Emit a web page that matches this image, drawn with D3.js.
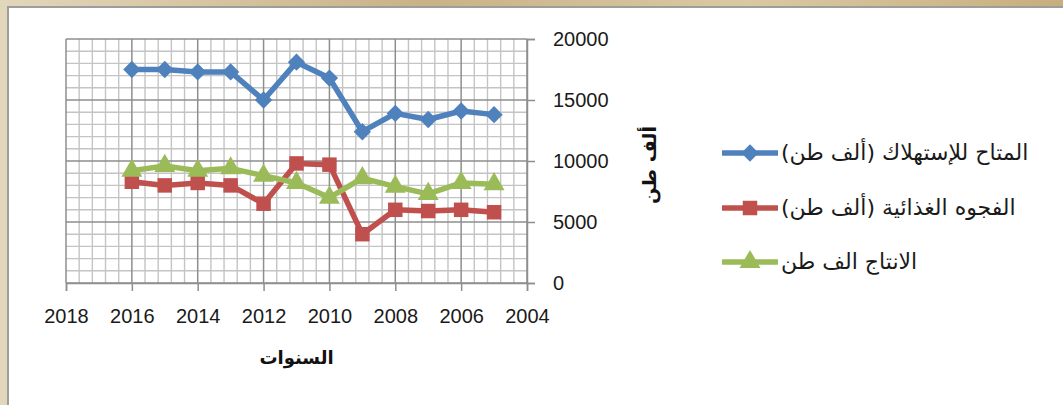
<!DOCTYPE html>
<html>
<head>
<meta charset="utf-8">
<script src="https://cdn.jsdelivr.net/npm/d3@7"></script>
<style>
  html, body { margin: 0; padding: 0; background: #d8c9a6; }
  svg { display: block; }
</style>
</head>
<body>
<svg id="chart" width="1063" height="405"></svg>
<script>
// Years shown on the chart (plotted right-to-left)
const years = [2016, 2015, 2014, 2013, 2012, 2011, 2010, 2009, 2008, 2007, 2006, 2005];

// Thousand tonnes
const available = [17500, 17500, 17300, 17300, 15000, 18100, 16800, 12400, 13900, 13400, 14100, 13800];
const foodGap   = [8300, 8000, 8200, 8000, 6500, 9800, 9700, 4000, 6000, 5900, 6000, 5800];
const production = [9200, 9600, 9200, 9400, 8800, 8200, 7000, 8600, 7900, 7300, 8200, 8100];

const seriesNames = [
  "المتاح للإستهلاك (ألف طن)",
  "الفجوه الغذائية (ألف طن)",
  "الانتاج الف طن"
];

const xTicks = [2018, 2016, 2014, 2012, 2010, 2008, 2006, 2004];
const yTicks = [0, 5000, 10000, 15000, 20000];
const xTitle = "السنوات";
const yTitle = "ألف طن";

const svg = d3.select("#chart");

// textured paper behind the chart frame
const defs = svg.append("defs");
const bg = defs.append("linearGradient").attr("id", "paper")
  .attr("x1", 0).attr("y1", 0).attr("x2", 1).attr("y2", 0);
bg.append("stop").attr("offset", "0%").attr("stop-color", "#e2d6bb");
bg.append("stop").attr("offset", "40%").attr("stop-color", "#c9b287");
bg.append("stop").attr("offset", "70%").attr("stop-color", "#d9c9a3");
bg.append("stop").attr("offset", "100%").attr("stop-color", "#c8ae7e");
svg.append("rect").attr("width", 1063).attr("height", 405).attr("fill", "url(#paper)");

// white chart frame
svg.append("rect")
  .attr("x", 8).attr("y", 7).attr("width", 1070).attr("height", 410)
  .attr("fill", "#ffffff").attr("stroke", "#9d9d9d").attr("stroke-width", 2);

const x = d3.scaleLinear().domain([2018, 2004]).range([66, 527]);
const y = d3.scaleLinear().domain([0, 20000]).range([283, 39]);

const plotTop = y(20000), plotBottom = y(0), plotLeft = x(2018), plotRight = x(2004);

// minor grid: every 0.4 year and every 1000 t
const minorX = d3.range(0, 36).filter(i => i % 5 !== 0).map(i => 2018 - i * 0.4);
const minorY = d3.range(0, 21).map(i => i * 1000).filter(v => v % 5000 !== 0);

const grid = svg.append("g");
grid.selectAll("line.mx").data(minorX).join("line")
  .attr("x1", d => x(d)).attr("x2", d => x(d))
  .attr("y1", plotTop).attr("y2", plotBottom)
  .attr("stroke", "#c4c4c4").attr("stroke-width", 1.4);
grid.selectAll("line.my").data(minorY).join("line")
  .attr("x1", plotLeft).attr("x2", plotRight)
  .attr("y1", d => y(d)).attr("y2", d => y(d))
  .attr("stroke", "#c4c4c4").attr("stroke-width", 1.4);

// major grid
grid.selectAll("line.Mx").data(xTicks).join("line")
  .attr("x1", d => x(d)).attr("x2", d => x(d))
  .attr("y1", plotTop).attr("y2", plotBottom)
  .attr("stroke", "#8e8e8e").attr("stroke-width", 1.5);
grid.selectAll("line.My").data(yTicks).join("line")
  .attr("x1", plotLeft).attr("x2", plotRight)
  .attr("y1", d => y(d)).attr("y2", d => y(d))
  .attr("stroke", "#8e8e8e").attr("stroke-width", 1.5);

// axes
const tickFont = "'Liberation Sans', Arial, sans-serif";
const xAxis = svg.append("g").attr("transform", `translate(0,${plotBottom})`)
  .call(d3.axisBottom(x).tickValues(xTicks).tickFormat(d3.format("d")).tickSize(8).tickPadding(18));
const yAxis = svg.append("g").attr("transform", `translate(${plotRight},0)`)
  .call(d3.axisRight(y).tickValues(yTicks).tickFormat(d3.format("d")).tickSize(8).tickPadding(18));
[xAxis, yAxis].forEach(g => {
  g.select(".domain").attr("stroke", "#8e8e8e").attr("stroke-width", 1.5);
  g.selectAll(".tick line").attr("stroke", "#8e8e8e").attr("stroke-width", 1.5);
  g.selectAll(".tick text").attr("fill", "#1a1a1a")
    .style("font-family", tickFont).style("font-size", "20px");
});

// axis titles
svg.append("text")
  .attr("x", (plotLeft + plotRight) / 2).attr("y", 364)
  .attr("text-anchor", "middle")
  .style("font-family", "'DejaVu Sans', sans-serif").style("font-weight", "bold").style("font-size", "18px")
  .attr("fill", "#111").text(xTitle);
svg.append("text")
  .attr("transform", "translate(656,165) rotate(-90)")
  .attr("text-anchor", "middle")
  .style("font-family", "'DejaVu Sans', sans-serif").style("font-weight", "bold").style("font-size", "19px")
  .attr("fill", "#111").text(yTitle);

// square-proportioned diamond marker
const diamond = {
  draw(ctx, size) {
    const r = Math.sqrt(size / 2);
    ctx.moveTo(0, -r); ctx.lineTo(r, 0); ctx.lineTo(0, r); ctx.lineTo(-r, 0); ctx.closePath();
  }
};

// series
const colors = ["#4f81bd", "#c0504d", "#9bbb59"];
const values = [available, foodGap, production];
const symbols = [diamond, d3.symbolSquare, d3.symbolTriangle];
const symSizes = [150, 210, 190];

const line = d3.line().x(d => x(d[0])).y(d => y(d[1]));

values.forEach((vals, i) => {
  const pts = years.map((yr, j) => [yr, vals[j]]);
  const g = svg.append("g");
  g.append("path").datum(pts).attr("d", line)
    .attr("fill", "none").attr("stroke", colors[i]).attr("stroke-width", 5.5)
    .attr("stroke-linejoin", "round");
  g.selectAll("path.m").data(pts).join("path")
    .attr("transform", d => `translate(${x(d[0])},${y(d[1])})`)
    .attr("d", d3.symbol().type(symbols[i]).size(symSizes[i]))
    .attr("fill", colors[i]);
});

// legend
const legendY = [153, 208, 262];
const leg = svg.append("g");
seriesNames.forEach((name, i) => {
  const g = leg.append("g").attr("transform", `translate(0,${legendY[i]})`);
  g.append("line").attr("x1", 722).attr("x2", 778).attr("y1", 0).attr("y2", 0)
    .attr("stroke", colors[i]).attr("stroke-width", 5.5);
  g.append("path").attr("transform", "translate(750,0)")
    .attr("d", d3.symbol().type(symbols[i]).size(symSizes[i]))
    .attr("fill", colors[i]);
  g.append("text")
    .attr("x", 781).attr("y", 7)
    .attr("direction", "rtl").attr("text-anchor", "end")
    .style("font-family", "'DejaVu Sans', sans-serif").style("font-size", "22px")
    .attr("fill", "#1a1a1a").text(name);
});
</script>
</body>
</html>
